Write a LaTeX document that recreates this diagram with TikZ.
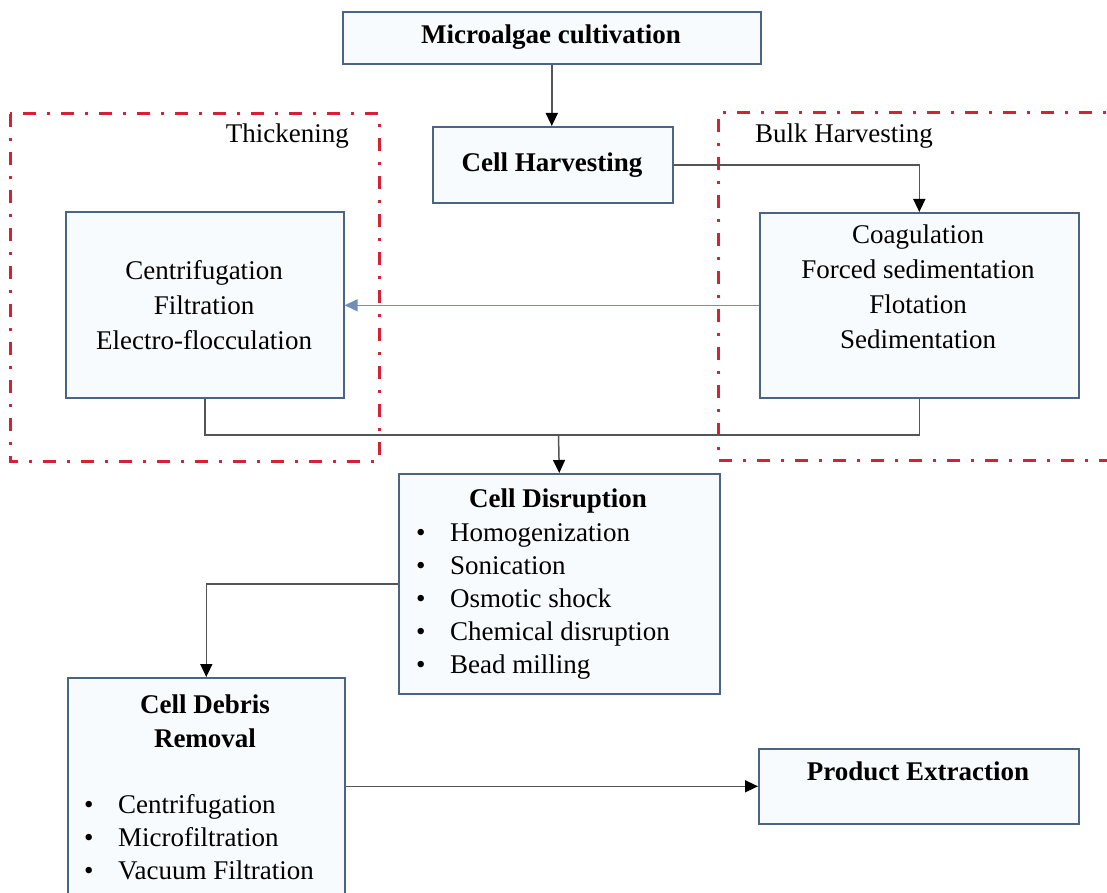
\documentclass[tikz,border=0pt]{standalone}
\usepackage{fontspec}
\setmainfont{Liberation Serif}
\usetikzlibrary{arrows.meta,calc}
\definecolor{boxdraw}{HTML}{4A6584}
\definecolor{boxfill}{HTML}{F8FBFE}
\definecolor{conncol}{HTML}{555555}
\definecolor{bluearr}{HTML}{6F8FBA}
\definecolor{redd}{HTML}{D62035}
\begin{document}
\begin{tikzpicture}[x=1pt,y=-1pt,
  box/.style={draw=boxdraw, fill=boxfill, line width=1.6pt, inner sep=0pt, anchor=north west},
  txt/.style={font=\fontsize{27}{35}\selectfont, inner sep=0pt, align=center},
  btxt/.style={font=\fontsize{27}{34}\selectfont\bfseries, inner sep=0pt, align=center},
  ltxt/.style={font=\fontsize{27}{33}\selectfont, inner sep=0pt, align=left, anchor=west},
  conn/.style={draw=conncol, line width=1.5pt},
  arr/.style={conn, -{Triangle[length=13pt,width=12pt,black]}},
  barr/.style={draw=bluearr, line width=1.5pt, -{Triangle[length=13pt,width=12pt]}},
  zone/.style={draw=redd, line width=3pt, dash pattern=on 13pt off 11pt on 3pt off 11pt}
]
\useasboundingbox (0,0) rectangle (1107,893);
\fill[white] (0,0) rectangle (1107,893);

% zones
\draw[zone] (10,114) rectangle (379,461);
\draw[zone] (1130,113) -- (718,113) -- (718,460) -- (1130,460);
\node[txt, anchor=east] (thlab) at (349,136) {Thickening};
\node[txt, anchor=west] (bhlab) at (755,136) {Bulk Harvesting};

% boxes
\node[box, minimum width=418pt, minimum height=52pt] (mc) at (342,11) {};
\node[btxt] (mct) at (551,37) {Microalgae cultivation};

\node[box, minimum width=240pt, minimum height=76pt] (ch) at (432,126) {};
\node[btxt] (cht) at (552,165) {Cell Harvesting};

\node[box, minimum width=278pt, minimum height=186pt] (thick) at (65,211) {};
\node[txt] (thickt) at (204,305) {Centrifugation\\Filtration\\Electro-flocculation};

\node[box, minimum width=319pt, minimum height=185pt] (bulk) at (759,212) {};
\node[txt] (bulkt) at (918,287) {Coagulation\\Forced sedimentation\\Flotation\\Sedimentation};

\node[box, minimum width=321pt, minimum height=220pt] (cd) at (398,473) {};
\node[btxt] (cdt) at (558,501) {Cell Disruption};
\node[ltxt] (cdl) at (416,601) {\makebox[34pt][l]{•}Homogenization\\\makebox[34pt][l]{•}Sonication\\\makebox[34pt][l]{•}Osmotic shock\\\makebox[34pt][l]{•}Chemical disruption\\\makebox[34pt][l]{•}Bead milling};

\node[box, minimum width=277pt, minimum height=240pt] (deb) at (67,677) {};
\node[btxt] (debt) at (205,721) {Cell Debris\\Removal};
\node[ltxt] (debl) at (84,837) {\makebox[34pt][l]{•}Centrifugation\\\makebox[34pt][l]{•}Microfiltration\\\makebox[34pt][l]{•}Vacuum Filtration};

\node[box, minimum width=320pt, minimum height=75pt] (pe) at (758,748) {};
\node[btxt] (pet) at (918,771) {Product Extraction};

% connectors
\draw[arr] (mc.south) -- (mc.south |- ch.north);
\draw[arr] (ch.east) -| (bulk.north);
\draw[barr] (bulk.west) -- (bulk.west -| thick.east);
\coordinate (j) at (558.5,435);
\draw[conn] (thick.south) |- (j) -| (bulk.south);
\draw[arr] (j) -- (cd.north);
\draw[arr] (cd.west) -| (deb.north);
\draw[arr] (pe.west -| deb.east) -- (pe.west);
\end{tikzpicture}
\end{document}
